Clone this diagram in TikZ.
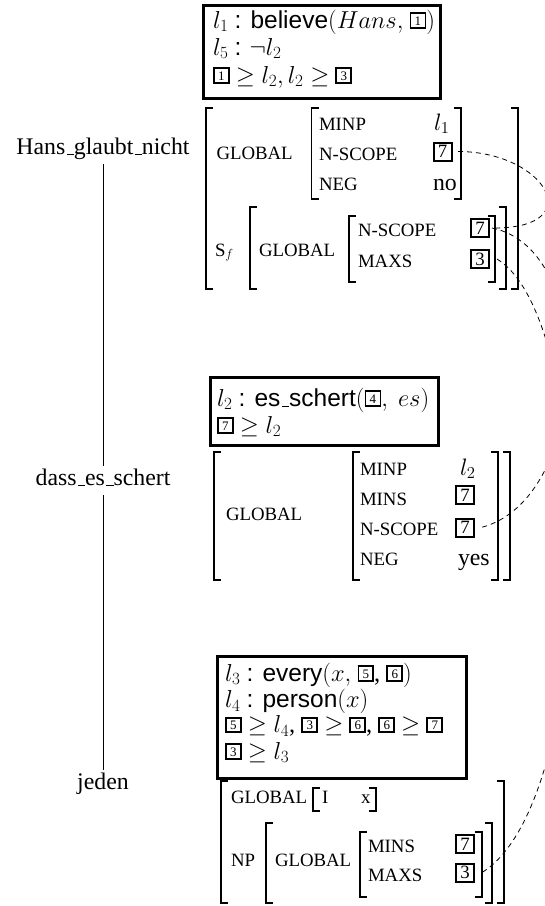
\RequirePackage{fix-cm}
\documentclass[tikz,border=0pt]{standalone}
\usepackage[no-math]{fontspec}
\setmainfont{Liberation Serif}
\setsansfont{Liberation Sans}
\newcommand\mainsz{\fontsize{23.8}{28}\selectfont}
\newcommand\mrssz{\fontsize{24.5}{27}\selectfont}
\newcommand\featsz{\fontsize{18.8}{22}\selectfont}
\newcommand\us{\kern.06em\rule[-1pt]{.3em}{1.2pt}}
\newcommand\mt[1]{{\setlength\fboxsep{1.8pt}\setlength\fboxrule{1.8pt}\raisebox{3pt}{\fbox{\makebox[9.5pt]{\rule{0pt}{9pt}\fontsize{13}{13}\selectfont #1}}}}}
\newcommand\lbr[3]{\draw[avmbr] (#1+7,#2) -- (#1,#2) -- (#1,#3) -- (#1+7,#3);}
\newcommand\rbr[3]{\draw[avmbr] (#1-7,#2) -- (#1,#2) -- (#1,#3) -- (#1-7,#3);}
\begin{document}
\begin{tikzpicture}[x=1pt,y=-1pt,
  every node/.style={inner sep=0pt,outer sep=0pt,font=\mainsz},
  txt/.style={anchor=base west},
  mtxt/.style={anchor=base west,font=\mrssz},
  ftr/.style={anchor=base west,font=\featsz},
  tagA/.style={draw,line width=2pt,minimum size=18pt,font=\featsz},
  mrsbox/.style={draw,line width=3pt,anchor=north west},
  avmbr/.style={line width=1.5pt},
  tree/.style={anchor=base,text height=16pt,text depth=7pt,inner ysep=3pt},
  treeline/.style={line width=1pt},
  link/.style={line width=0.8pt,dash pattern=on 5pt off 4pt}]
\useasboundingbox (0,0) rectangle (545,906);
\fill[white] (0,0) rectangle (545,906);
\clip (0,0) rectangle (545,906);

% tree
\node[tree] (hans) at (103,154) {Hans\us glaubt\us nicht};
\node[tree] (dass) at (103,485) {dass\us es\us schert};
\node[tree] (jeden) at (103,789) {jeden};
\draw[treeline] (hans) -- (dass);
\draw[treeline] (dass) -- (jeden);

% top MRS box
\node[mrsbox,minimum width=236.7pt,minimum height=93.3pt] (mrsA) at (203.3,5) {};
\node[mtxt] (a1) at (213,28) {$l_1$ \textsf{: believe}$(Hans,$ \mt{1}$)$};
\node[mtxt] (a2) at (213,55) {$l_5$ \textsf{:} $\neg l_2$};
\node[mtxt] (a3) at (213,83) {\mt{1} $\geq l_2, l_2 \geq$ \mt{3}};

% top AVM
\lbr{206}{108}{289}
\node[ftr] (g1) at (216.5,159.7) {GLOBAL};
\lbr{311.5}{108}{199}
\node[ftr] (f1) at (319,130) {MINP};
\node[ftr] (f2) at (319,160) {N-SCOPE};
\node[ftr] (f3) at (319,190) {NEG};
\node[txt] (v1) at (434,130) {$l_1$};
\node[tagA] (t7a) at (442.5,151.5) {7};
\node[txt] (v3) at (433,190) {no};
\rbr{461}{108}{199}
\node[ftr] (sf) at (215,256) {S$_f$};
\lbr{250}{207}{289}
\node[ftr] (g2) at (259,256) {GLOBAL};
\lbr{349}{216}{282}
\node[ftr] (f4) at (358,236) {N-SCOPE};
\node[ftr] (f5) at (358,267) {MAXS};
\node[tagA] (t7b) at (480,228) {7};
\node[tagA] (t3b) at (480,259) {3};
\rbr{495}{216}{282}
\rbr{506}{207}{289}
\rbr{518}{108}{289}

% middle MRS box
\node[mrsbox,minimum width=227.5pt,minimum height=68pt] (mrsB) at (210.5,377) {};
\node[mtxt] (b1) at (217,406) {$l_2$ \textsf{: es\us schert}$($\mt{4}$,\ es)$};
\node[mtxt] (b2) at (217,433) {\mt{7} $\geq l_2$};

% middle AVM
\lbr{214}{452}{580}
\node[ftr] (g3) at (226,520) {GLOBAL};
\lbr{353}{452}{580}
\node[ftr] (f6) at (360,475) {MINP};
\node[ftr] (f7) at (360,505) {MINS};
\node[ftr] (f8) at (360,535) {N-SCOPE};
\node[ftr] (f9) at (360,565) {NEG};
\node[txt] (v4) at (460,475) {$l_2$};
\node[tagA] (t7m) at (465,495) {7};
\node[tagA] (t7c) at (465,527.5) {7};
\node[txt] (v5) at (458,565) {yes};
\rbr{498}{452}{580}
\rbr{510}{452}{580}

% bottom MRS box
\node[mrsbox,minimum width=249pt,minimum height=121.5pt] (mrsC) at (217.3,656.8) {};
\node[mtxt] (c1) at (225,681) {$l_3$ \textsf{: every}$(x,$ \mt{5}, \mt{6}$)$};
\node[mtxt] (c2) at (225,707.5) {$l_4$ \textsf{: person}$(x)$};
\node[mtxt] (c3) at (225,732.5) {\mt{5} $\geq l_4$, \mt{3} $\geq$ \mt{6}, \mt{6} $\geq$ \mt{7}};
\node[mtxt] (c4) at (225,759) {\mt{3} $\geq l_3$};

% bottom AVM
\lbr{221}{781}{903}
\node[ftr] (g4) at (231,803) {GLOBAL};
\lbr{313}{788}{811}
\node[ftr] (f10) at (322,803) {I};
\node[ftr] (v6) at (361,803) {x};
\rbr{376}{788}{811}
\node[ftr] (np) at (231,866) {NP};
\lbr{266}{823}{903}
\node[ftr] (g5) at (275,866) {GLOBAL};
\lbr{360}{832}{897}
\node[ftr] (f11) at (368,852) {MINS};
\node[ftr] (f12) at (368,881) {MAXS};
\node[tagA] (t7d) at (465,844) {7};
\node[tagA] (t3d) at (465,872.5) {3};
\rbr{482}{832}{897}
\rbr{492}{823}{903}
\rbr{504}{781}{903}

% dashed links
\draw[link] ([xshift=6.5pt]t7a.east) .. controls +(87,0) and +(96,0) .. ([xshift=5pt]t7b.east);
\draw[link] ([xshift=3pt]t7b.east) .. controls +(108,22) and +(109,-27.5) .. ([xshift=7pt]t7c.east);
\draw[link] ([xshift=8pt]t3b.east) .. controls +(102,62) and +(118,-73) .. ([xshift=8pt]t3d.east);
\end{tikzpicture}
\end{document}
